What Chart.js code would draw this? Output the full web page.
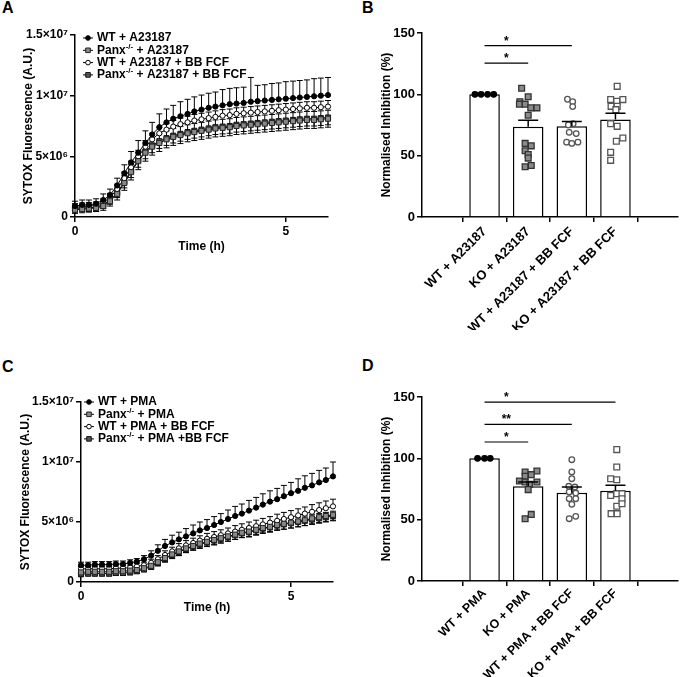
<!DOCTYPE html>
<html>
<head>
<meta charset="utf-8">
<title>SYTOX uptake and normalised inhibition</title>
<script src="https://cdn.jsdelivr.net/npm/chart.js@4.4.0/dist/chart.umd.min.js"></script>
<style>
  body { margin: 0; background: #fff; width: 685px; height: 677px; position: relative; overflow: hidden;
         font-family: "Liberation Sans", Arial, sans-serif; }
  canvas { position: absolute; }
  .panel-letter { position: absolute; font-weight: bold; font-size: 16px; line-height: 16px; color: #000; }
</style>
</head>
<body>
<div class="panel-letter" style="left:2px;top:0px">A</div>
<div class="panel-letter" style="left:362px;top:0px">B</div>
<div class="panel-letter" style="left:2px;top:359px">C</div>
<div class="panel-letter" style="left:362px;top:358px">D</div>

<canvas id="chartA" width="340" height="265" style="left:0;top:0"></canvas>
<canvas id="chartB" width="345" height="330" style="left:340px;top:0"></canvas>
<canvas id="chartC" width="340" height="295" style="left:0;top:330px"></canvas>
<canvas id="chartD" width="345" height="347" style="left:340px;top:330px"></canvas>

<script>
// ---- data: time course (values in units of 10^6 A.U.) ----
const timeH = [0, 0.17, 0.33, 0.5, 0.67, 0.83, 1, 1.17, 1.33, 1.5, 1.67, 1.83, 2, 2.17, 2.33, 2.5, 2.67, 2.83,
  3, 3.17, 3.33, 3.5, 3.67, 3.83, 4, 4.17, 4.33, 4.5, 4.67, 4.83, 5, 5.17, 5.33, 5.5, 5.67, 5.83, 6];

const lineTickValues = [0, 5, 10, 15];
const lineTickLabels = ["0", "5×10⁶", "1×10⁷", "1.5×10⁷"];

// Panel A: A23187
const wtA = [0.9, 1.0, 1.0, 1.1, 1.4, 1.8, 2.6, 3.6, 4.5, 5.3, 6.1, 6.8, 7.4, 7.8, 8.1, 8.3, 8.5, 8.7,
  8.85, 9.0, 9.1, 9.2, 9.3, 9.35, 9.4, 9.5, 9.55, 9.6, 9.65, 9.7, 9.75, 9.8, 9.85, 9.9, 9.95, 10.0, 10.05];
const koA = [0.6, 0.65, 0.7, 0.75, 0.9, 1.3, 1.9, 2.8, 3.7, 4.6, 5.3, 5.8, 6.1, 6.4, 6.6, 6.75, 6.9, 7.0,
  7.1, 7.2, 7.3, 7.35, 7.4, 7.5, 7.55, 7.6, 7.65, 7.7, 7.75, 7.8, 7.85, 7.9, 7.95, 8.0, 8.0, 8.05, 8.1];
const wtBbA = [0.8, 0.85, 0.9, 0.95, 1.2, 1.6, 2.3, 3.2, 4.1, 5.0, 5.8, 6.4, 6.9, 7.2, 7.45, 7.65, 7.8, 7.95,
  8.05, 8.15, 8.25, 8.35, 8.4, 8.5, 8.55, 8.6, 8.65, 8.7, 8.75, 8.8, 8.85, 8.9, 8.95, 9.0, 9.0, 9.05, 9.1];
const koBbA = [0.7, 0.75, 0.75, 0.8, 1.0, 1.4, 2.0, 2.9, 3.8, 4.7, 5.4, 5.9, 6.25, 6.5, 6.7, 6.85, 7.0, 7.1,
  7.2, 7.3, 7.4, 7.45, 7.5, 7.6, 7.65, 7.7, 7.75, 7.8, 7.85, 7.9, 7.95, 8.0, 8.05, 8.1, 8.1, 8.15, 8.2];

const errWtA = [0.4, 0.4, 0.4, 0.4, 0.5, 0.5, 0.6, 0.7, 0.9, 1.0, 1.0, 1.0, 1.1, 1.1, 1.1, 1.2, 1.2, 1.2,
  1.2, 1.2, 1.2, 1.3, 1.3, 1.3, 1.3, 2.0, 1.3, 1.3, 1.35, 1.35, 1.4, 1.4, 1.4, 1.4, 1.45, 1.45, 1.45];
const errKoA = [0.3, 0.3, 0.3, 0.3, 0.35, 0.4, 0.5, 0.6, 0.65, 0.7, 0.7, 0.7, 0.7, 0.7, 0.7, 0.7, 0.7, 0.7,
  0.7, 0.7, 0.7, 0.7, 0.7, 0.7, 0.7, 0.7, 0.7, 0.7, 0.7, 0.7, 0.7, 0.7, 0.7, 0.7, 0.7, 0.7, 0.7];
const errWtBbA = [0.3, 0.3, 0.3, 0.3, 0.3, 0.35, 0.4, 0.5, 0.5, 0.5, 0.5, 0.5, 0.5, 0.5, 0.5, 0.5, 0.5, 0.5,
  0.5, 0.5, 0.5, 0.5, 0.5, 0.5, 0.5, 0.5, 0.5, 0.5, 0.5, 0.5, 0.5, 0.5, 0.5, 0.5, 0.5, 0.5, 0.5];
const errKoBbA = [0.3, 0.3, 0.3, 0.3, 0.3, 0.35, 0.4, 0.5, 0.55, 0.6, 0.6, 0.6, 0.6, 0.6, 0.6, 0.6, 0.6, 0.6,
  0.6, 0.6, 0.6, 0.6, 0.6, 0.6, 0.6, 0.6, 0.6, 0.6, 0.6, 0.6, 0.6, 0.6, 0.6, 0.6, 0.6, 0.6, 0.6];

// Panel C: PMA
const wtC = [1.4, 1.4, 1.45, 1.45, 1.45, 1.5, 1.5, 1.6, 1.7, 1.9, 2.2, 2.6, 3.0, 3.3, 3.55, 3.8, 4.05, 4.3,
  4.5, 4.75, 5.0, 5.25, 5.5, 5.7, 5.95, 6.2, 6.45, 6.7, 6.9, 7.15, 7.4, 7.6, 7.85, 8.05, 8.3, 8.5, 8.8];
const koC = [0.8, 0.85, 0.85, 0.85, 0.85, 0.9, 0.9, 0.95, 1.0, 1.15, 1.35, 1.65, 2.0, 2.3, 2.55, 2.8, 3.0, 3.2,
  3.35, 3.5, 3.65, 3.8, 3.95, 4.1, 4.2, 4.35, 4.5, 4.6, 4.75, 4.85, 4.95, 5.05, 5.15, 5.3, 5.4, 5.5, 5.6];
const wtBbC = [1.1, 1.1, 1.1, 1.1, 1.1, 1.15, 1.15, 1.2, 1.3, 1.4, 1.6, 1.9, 2.25, 2.55, 2.8, 3.05, 3.25, 3.45,
  3.6, 3.75, 3.9, 4.05, 4.2, 4.35, 4.5, 4.65, 4.8, 4.95, 5.1, 5.25, 5.4, 5.55, 5.7, 5.85, 6.0, 6.15, 6.3];
const koBbC = [0.65, 0.7, 0.7, 0.7, 0.7, 0.75, 0.75, 0.8, 0.9, 1.05, 1.3, 1.6, 1.95, 2.25, 2.5, 2.75, 2.95, 3.15,
  3.3, 3.45, 3.6, 3.75, 3.9, 4.05, 4.15, 4.3, 4.45, 4.55, 4.7, 4.8, 4.9, 5.0, 5.1, 5.2, 5.3, 5.4, 5.5];

const errWtC = [0.25, 0.25, 0.25, 0.25, 0.25, 0.25, 0.25, 0.25, 0.25, 0.3, 0.4, 0.5, 0.55, 0.6, 0.6, 0.65, 0.7, 0.7,
  0.7, 0.7, 0.7, 0.75, 0.8, 0.8, 0.85, 0.85, 0.9, 0.9, 0.9, 0.9, 0.9, 1.0, 1.0, 1.0, 1.0, 1.0, 1.2];
const errKoC = [0.2, 0.2, 0.2, 0.2, 0.2, 0.2, 0.2, 0.2, 0.2, 0.25, 0.25, 0.3, 0.3, 0.3, 0.35, 0.35, 0.35, 0.35,
  0.35, 0.4, 0.4, 0.4, 0.4, 0.4, 0.4, 0.4, 0.4, 0.4, 0.4, 0.45, 0.45, 0.45, 0.45, 0.45, 0.45, 0.45, 0.45];
const errWtBbC = [0.2, 0.2, 0.2, 0.2, 0.2, 0.2, 0.2, 0.2, 0.25, 0.25, 0.3, 0.3, 0.35, 0.35, 0.4, 0.4, 0.4, 0.4,
  0.45, 0.45, 0.45, 0.45, 0.5, 0.5, 0.5, 0.5, 0.5, 0.5, 0.55, 0.55, 0.55, 0.55, 0.55, 0.6, 0.6, 0.6, 0.6];
const errKoBbC = [0.2, 0.2, 0.2, 0.2, 0.2, 0.2, 0.2, 0.2, 0.2, 0.2, 0.25, 0.25, 0.3, 0.3, 0.3, 0.3, 0.3, 0.35,
  0.35, 0.35, 0.35, 0.35, 0.35, 0.35, 0.4, 0.4, 0.4, 0.4, 0.4, 0.4, 0.4, 0.4, 0.4, 0.4, 0.4, 0.4, 0.4];

const legendA = ["WT + A23187", "Panx^-/-^ + A23187", "WT + A23187 + BB FCF", "Panx^-/-^ + A23187 + BB FCF"];
const legendC = ["WT + PMA", "Panx^-/-^ + PMA", "WT + PMA + BB FCF", "Panx^-/-^ + PMA +BB FCF"];

// ---- data: normalised inhibition (%) ----
const barTickValues = [0, 50, 100, 150];

const catsB = ["WT + A23187", "KO + A23187", "WT + A23187 + BB FCF", "KO + A23187 + BB FCF"];
const meanB = [100, 73.5, 74, 79.5];
const semB = [0, 5.3, 3.8, 5.0];
const dotsB = [
  [100, 100, 100, 100],
  [105, 98, 94, 92, 92, 89, 89, 83, 60, 58, 54, 51, 48, 41, 42],
  [96, 94, 90, 76, 75, 69, 68, 61, 60, 61],
  [106.5, 95.7, 94.3, 95.7, 90.2, 90.2, 87.5, 76.1, 73.9, 64.4, 61.7, 52.7, 46.2]
];
const jitterB = [
  [-0.22, -0.08, 0.07, 0.21],
  [-0.15, 0, -0.19, -0.2, -0.07, 0.06, 0.2, 0, -0.07, 0.07, -0.07, 0, 0, -0.07, 0.07],
  [-0.1, 0.02, 0.02, 0.03, -0.08, -0.06, 0.1, -0.12, 0, 0.14],
  [0.04, -0.11, 0.03, 0.17, -0.1, 0.04, 0.01, -0.11, 0.04, 0.17, 0.02, -0.11, -0.11]
];
// [from, to, level, label]
const sigB = [[0, 2, 139.7, "*"], [0, 1, 125.5, "*"]];

const catsD = ["WT + PMA", "KO + PMA", "WT + PMA + BB FCF", "KO + PMA + BB FCF"];
const meanD = [100, 77.3, 72, 73.5];
const semD = [0, 3.5, 4.7, 4.5];
const dotsD = [
  [100, 100, 100],
  [88.9, 89.7, 85.3, 86.7, 81.5, 80.7, 80.7, 78.8, 74.5, 50.8, 54.3],
  [98.9, 88.9, 83.4, 77.2, 76.6, 72.6, 71.7, 67.1, 67.1, 62.5, 50.8, 52.7],
  [107.1, 92.9, 83.4, 82.6, 69.8, 71.2, 71.2, 67.1, 60.9, 63, 54.9, 54.9]
];
const jitterD = [
  [-0.16, 0, 0.13],
  [-0.07, 0.2, -0.07, 0.07, -0.2, -0.07, 0.2, 0.03, 0, -0.07, 0.07],
  [0, 0, 0, -0.07, 0.07, -0.06, 0.09, -0.06, 0.09, 0, -0.06, 0.09],
  [0.03, 0.03, -0.11, 0.03, -0.11, 0.03, 0.15, 0.15, 0.03, 0.15, -0.1, 0.04]
];
const sigD = [[0, 3, 145.9, "*"], [0, 2, 127.7, "**"], [0, 1, 113.3, "*"]];

// ---- styles ----
const FONT = "'Liberation Sans', Arial, sans-serif";
Chart.defaults.font.family = FONT;
Chart.defaults.font.size = 12;
Chart.defaults.font.weight = "bold";
Chart.defaults.color = "#000";
Chart.defaults.animation = false;

const MARKERS = [
  { style: "circle", r: 2.6, fill: "#000", stroke: "#000" },
  { style: "rect", r: 3.6, fill: "#888", stroke: "#222" },
  { style: "circle", r: 2.6, fill: "#fff", stroke: "#000" },
  { style: "rect", r: 3.6, fill: "#555", stroke: "#111" }
];
const DOT_MARKERS = [
  { style: "circle", r: 2.8, fill: "#000", stroke: "#000" },
  { style: "rect", r: 4.1, fill: "#8a8a8a", stroke: "#333" },
  { style: "circle", r: 2.8, fill: "#fff", stroke: "#555" },
  { style: "rect", r: 4.1, fill: "#fff", stroke: "#555" }
];

function drawMarker(ctx, m, x, y, scale) {
  ctx.save();
  ctx.fillStyle = m.fill;
  ctx.strokeStyle = m.stroke;
  ctx.lineWidth = 1;
  ctx.beginPath();
  if (m.style === "circle") {
    ctx.arc(x, y, m.r * scale, 0, Math.PI * 2);
  } else {
    const s = m.r * Math.SQRT1_2 * scale;
    ctx.rect(x - s, y - s, 2 * s, 2 * s);
  }
  ctx.fill();
  ctx.stroke();
  ctx.restore();
}

// legend drawn inside the plot, top-left
const insideLegend = {
  id: "insideLegend",
  afterDraw(chart, args, opts) {
    if (!opts.rows) return;
    const ctx = chart.ctx;
    ctx.save();
    opts.rows.forEach((row, i) => {
      const y = opts.y + i * opts.dy;
      ctx.strokeStyle = "#000";
      ctx.lineWidth = 1;
      ctx.beginPath();
      ctx.moveTo(opts.x - 5, y);
      ctx.lineTo(opts.x + 5, y);
      ctx.stroke();
      drawMarker(ctx, MARKERS[i], opts.x, y, 0.9);
      let tx = opts.x + 9;
      ctx.fillStyle = "#000";
      ctx.textBaseline = "middle";
      ctx.textAlign = "left";
      row.split("^").forEach((part, k) => {
        if (k % 2 === 1) {
          ctx.font = "bold 8px " + FONT;
          ctx.fillText(part, tx, y - 4);
        } else {
          ctx.font = "bold 12px " + FONT;
          ctx.fillText(part, tx, y);
        }
        tx += ctx.measureText(part).width;
      });
    });
    ctx.restore();
  }
};

// error bars: under the markers for lines, on top for bars
function drawErrors(chart, onTop) {
  const ctx = chart.ctx;
  const yScale = chart.scales.y;
  chart.data.datasets.forEach((ds, di) => {
    if (!ds.errors || !!ds.errOnTop !== onTop) return;
    const meta = chart.getDatasetMeta(di);
    ctx.save();
    ctx.strokeStyle = "#000";
    ctx.lineWidth = ds.errWidth || 1;
    meta.data.forEach((el, i) => {
      const e = ds.errors[i];
      if (!e) return;
      const v = ds.data[i].y;
      const dirs = ds.errDir === "both" ? [1, -1] : [ds.errDir === "up" ? 1 : -1];
      dirs.forEach(d => {
        const yEnd = yScale.getPixelForValue(v + d * e);
        ctx.beginPath();
        ctx.moveTo(el.x, el.y);
        ctx.lineTo(el.x, yEnd);
        ctx.moveTo(el.x - ds.capHalf, yEnd);
        ctx.lineTo(el.x + ds.capHalf, yEnd);
        ctx.stroke();
      });
    });
    ctx.restore();
  });
}
const errorBars = {
  id: "errorBars",
  beforeDatasetsDraw(chart) { drawErrors(chart, false); },
  afterDatasetsDraw(chart) { drawErrors(chart, true); }
};

// significance brackets
const sigBars = {
  id: "sigBars",
  afterDraw(chart, args, opts) {
    if (!opts.pairs) return;
    const ctx = chart.ctx, xs = chart.scales.x, ys = chart.scales.y;
    ctx.save();
    ctx.strokeStyle = "#000";
    ctx.lineWidth = 1.2;
    ctx.fillStyle = "#000";
    ctx.font = "bold 12px " + FONT;
    ctx.textAlign = "center";
    ctx.textBaseline = "alphabetic";
    opts.pairs.forEach(([a, b, level, label]) => {
      const y = ys.getPixelForValue(level);
      ctx.beginPath();
      ctx.moveTo(xs.getPixelForValue(a), y);
      ctx.lineTo(xs.getPixelForValue(b), y);
      ctx.stroke();
      ctx.fillText(label, xs.getPixelForValue(a + 0.5), y - 1);
    });
    ctx.restore();
  }
};

function axisBase() {
  return {
    border: { display: true, color: "#000", width: 1.5 },
    grid: { drawOnChartArea: false, drawTicks: true, tickLength: 5, color: "#000", lineWidth: 1.5 },
    ticks: { color: "#000", padding: 2, font: { size: 12, weight: "bold" } }
  };
}

function buildLineChart(id, series, errs, dirs, legendRows, box) {
  const datasets = series.map((vals, i) => ({
    label: legendRows[i].replace(/\^/g, ""),
    data: timeH.map((t, k) => ({ x: t, y: vals[k] })),
    errors: errs[i],
    errDir: dirs[i],
    capHalf: 3,
    borderColor: "#000",
    borderWidth: 1,
    pointStyle: MARKERS[i].style,
    pointRadius: MARKERS[i].r,
    pointBackgroundColor: MARKERS[i].fill,
    pointBorderColor: MARKERS[i].stroke,
    pointBorderWidth: 1,
    tension: 0,
    clip: false
  }));

  const x = axisBase();
  Object.assign(x, {
    type: "linear", min: 0, max: 6,
    title: { display: true, text: "Time (h)", font: { size: 12, weight: "bold" }, padding: { top: 0, bottom: box.xTitlePad } },
    afterFit(scale) { scale.height = box.xHeight; }
  });
  Object.assign(x.ticks, { stepSize: 5, includeBounds: false, maxRotation: 0 });

  const y = axisBase();
  Object.assign(y, {
    min: 0, max: 15,
    title: { display: true, text: "SYTOX Fluorescence (A.U.)", font: { size: 12, weight: "bold" }, padding: { top: box.yTitlePad, bottom: 0 } },
    afterFit(scale) { scale.width = box.yWidth; }
  });
  Object.assign(y.ticks, {
    stepSize: 5,
    callback: v => { const k = lineTickValues.indexOf(v); return k < 0 ? "" : lineTickLabels[k]; }
  });

  new Chart(document.getElementById(id), {
    type: "line",
    data: { datasets },
    options: {
      responsive: false,
      maintainAspectRatio: false,
      layout: { padding: { top: box.top, right: box.right, left: 0, bottom: 0 } },
      scales: { x, y },
      plugins: {
        legend: { display: false },
        tooltip: { enabled: false },
        insideLegend: { rows: legendRows, x: box.legX, y: box.legY, dy: 12.3 }
      }
    },
    plugins: [errorBars, insideLegend]
  });
}

function buildBarChart(id, cats, means, sems, dots, jitter, sig, box) {
  const datasets = [{
    type: "bar",
    data: means.map((m, i) => ({ x: i, y: m })),
    errors: sems,
    errDir: "up",
    errOnTop: true,
    errWidth: 1.5,
    capHalf: 10,
    backgroundColor: "#fff",
    borderColor: "#000",
    borderWidth: 1.5,
    categoryPercentage: 1,
    barPercentage: 0.7,
    order: 2
  }];
  dots.forEach((vals, c) => {
    datasets.push({
      type: "scatter",
      data: vals.map((v, k) => ({ x: c + jitter[c][k], y: v })),
      pointStyle: DOT_MARKERS[c].style,
      pointRadius: DOT_MARKERS[c].r,
      pointBackgroundColor: DOT_MARKERS[c].fill,
      pointBorderColor: DOT_MARKERS[c].stroke,
      pointBorderWidth: 1.3,
      order: 1
    });
  });

  const x = axisBase();
  Object.assign(x, {
    type: "linear", min: -0.7, max: 3.7,
    afterFit(scale) { scale.height = box.xHeight; }
  });
  Object.assign(x.ticks, {
    stepSize: 1, includeBounds: false, autoSkip: false,
    minRotation: 45, maxRotation: 45, padding: box.labelPad,
    font: { size: box.labelSize, weight: "bold" },
    callback: v => (Number.isInteger(v) && cats[v]) ? cats[v] : ""
  });

  const y = axisBase();
  Object.assign(y, {
    min: 0, max: 150,
    title: { display: true, text: "Normalised Inhibition (%)", font: { size: 12, weight: "bold" }, padding: { top: box.yTitlePad, bottom: 0 } },
    afterFit(scale) { scale.width = box.yWidth; }
  });
  Object.assign(y.ticks, {
    stepSize: 50,
    font: { size: 13, weight: "bold" },
    callback: v => barTickValues.includes(v) ? String(v) : ""
  });

  new Chart(document.getElementById(id), {
    type: "bar",
    data: { datasets },
    options: {
      responsive: false,
      maintainAspectRatio: false,
      layout: { padding: { top: box.top, right: box.right, left: 0, bottom: 0 } },
      scales: { x, y },
      plugins: {
        legend: { display: false },
        tooltip: { enabled: false },
        sigBars: { pairs: sig }
      }
    },
    plugins: [errorBars, sigBars]
  });
}

document.addEventListener("DOMContentLoaded", () => {
  buildLineChart("chartA", [wtA, koA, wtBbA, koBbA], [errWtA, errKoA, errWtBbA, errKoBbA],
    ["up", "down", "up", "both"], legendA,
    { top: 35, right: 12, xHeight: 48, yWidth: 75, xTitlePad: 11, yTitlePad: 21, legX: 88, legY: 38 });

  buildLineChart("chartC", [wtC, koC, wtBbC, koBbC], [errWtC, errKoC, errWtBbC, errKoBbC],
    ["up", "down", "up", "both"], legendC,
    { top: 72, right: 7, xHeight: 43, yWidth: 81, xTitlePad: 10, yTitlePad: 18, legX: 89, legY: 72 });

  buildBarChart("chartB", catsB, meanB, semB, dotsB, jitterB, sigB,
    { top: 33, right: 7, xHeight: 113, yWidth: 82, yTitlePad: 39, labelSize: 13, labelPad: 2 });

  buildBarChart("chartD", catsD, meanD, semD, dotsD, jitterD, sigD,
    { top: 67, right: 7, xHeight: 96, yWidth: 82, yTitlePad: 39, labelSize: 12.5, labelPad: 0 });
});
</script>
</body>
</html>
